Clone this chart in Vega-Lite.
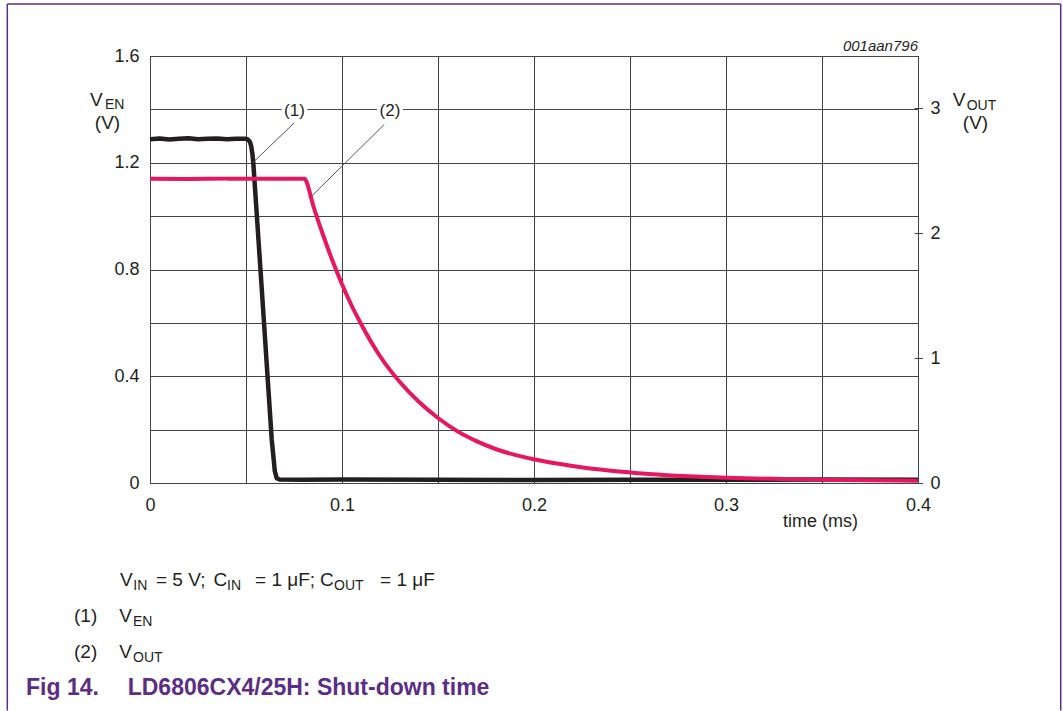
{
  "$schema": "https://vega.github.io/schema/vega-lite/v6.json",
  "width": 768,
  "height": 427,
  "autosize": {"type": "none"},
  "padding": {"left": 150, "top": 56, "right": 145, "bottom": 228},
  "background": "white",
  "config": {
    "view": {"stroke": "#231f20", "strokeWidth": 1},
    "font": "Liberation Sans",
    "axis": {"labelFont": "Liberation Sans", "labelColor": "#231f20", "title": null}
  },
  "datasets": {
    "ven": [
      {"t": 0, "v": 1.288}, {"t": 0.005, "v": 1.291}, {"t": 0.01, "v": 1.287}, {"t": 0.015, "v": 1.29},
      {"t": 0.02, "v": 1.292}, {"t": 0.025, "v": 1.288}, {"t": 0.03, "v": 1.29}, {"t": 0.035, "v": 1.291},
      {"t": 0.04, "v": 1.288}, {"t": 0.045, "v": 1.29}, {"t": 0.05, "v": 1.29}, {"t": 0.051, "v": 1.287},
      {"t": 0.052, "v": 1.279}, {"t": 0.0527, "v": 1.262}, {"t": 0.0533, "v": 1.235}, {"t": 0.0538, "v": 1.2},
      {"t": 0.058, "v": 0.75}, {"t": 0.0634, "v": 0.163}, {"t": 0.065, "v": 0.045}, {"t": 0.066, "v": 0.018},
      {"t": 0.0675, "v": 0.013}, {"t": 0.08, "v": 0.012}, {"t": 0.1, "v": 0.013}, {"t": 0.15, "v": 0.012},
      {"t": 0.2, "v": 0.011}, {"t": 0.25, "v": 0.012}, {"t": 0.3, "v": 0.012}, {"t": 0.35, "v": 0.013},
      {"t": 0.4, "v": 0.012}
    ],
    "vout": [
      {"t": 0, "v": 2.434}, {"t": 0.02, "v": 2.433}, {"t": 0.04, "v": 2.435}, {"t": 0.06, "v": 2.434},
      {"t": 0.0805, "v": 2.434}, {"t": 0.0812, "v": 2.42}, {"t": 0.085, "v": 2.22}, {"t": 0.09, "v": 1.99},
      {"t": 0.095, "v": 1.78}, {"t": 0.1, "v": 1.59}, {"t": 0.105, "v": 1.42}, {"t": 0.11, "v": 1.27},
      {"t": 0.12, "v": 1.01}, {"t": 0.13, "v": 0.81}, {"t": 0.14, "v": 0.65}, {"t": 0.15, "v": 0.52},
      {"t": 0.16, "v": 0.415}, {"t": 0.17, "v": 0.335}, {"t": 0.18, "v": 0.272}, {"t": 0.19, "v": 0.225},
      {"t": 0.2, "v": 0.19}, {"t": 0.22, "v": 0.136}, {"t": 0.24, "v": 0.098}, {"t": 0.26, "v": 0.072},
      {"t": 0.28, "v": 0.054}, {"t": 0.3, "v": 0.042}, {"t": 0.33, "v": 0.031}, {"t": 0.36, "v": 0.024},
      {"t": 0.4, "v": 0.018}
    ],
    "frameV": [
      {"t": -0.07432, "v": 1.7948, "v2": -0.8525},
      {"t": 0.47432, "v": 1.7948, "v2": -0.8525}
    ],
    "frameH": [
      {"t": -0.07432, "t2": 0.47432, "v": 1.7948}
    ],
    "leaders": [
      {"t": 0.07516, "v": 1.3497, "t2": 0.0538, "v2": 1.2021},
      {"t": 0.122, "v": 1.3433, "t2": 0.0833, "v2": 1.0687}
    ],
    "callouts": [
      {"t": 0.07526, "v": 1.3939, "label": "(1)"},
      {"t": 0.125, "v": 1.3939, "label": "(2)"}
    ],
    "txt": [
      {"t": -0.03125, "v": 1.4145, "label": "V"},
      {"t": 0.41807, "v": 1.4145, "label": "V"},
      {"t": -0.015625, "v": -0.3867, "label": "V"},
      {"t": 0.003125, "v": -0.3867, "label": "= 5 V;"},
      {"t": 0.033073, "v": -0.3867, "label": "C"},
      {"t": 0.054688, "v": -0.3867, "label": "= 1 μF;"},
      {"t": 0.088542, "v": -0.3867, "label": "C"},
      {"t": 0.119792, "v": -0.3867, "label": "= 1 μF"},
      {"t": -0.039583, "v": -0.5227, "label": "(1)"},
      {"t": -0.01599, "v": -0.5227, "label": "V"},
      {"t": -0.039583, "v": -0.655, "label": "(2)"},
      {"t": -0.01599, "v": -0.655, "label": "V"}
    ],
    "sub": [
      {"t": -0.02344, "v": 1.4014, "label": "EN"},
      {"t": 0.42536, "v": 1.3995, "label": "OUT"},
      {"t": -0.008698, "v": -0.4017, "label": "IN"},
      {"t": 0.040104, "v": -0.4017, "label": "IN"},
      {"t": 0.095833, "v": -0.4017, "label": "OUT"},
      {"t": -0.008854, "v": -0.5377, "label": "EN"},
      {"t": -0.008854, "v": -0.67, "label": "OUT"}
    ],
    "unit": [
      {"t": -0.02214, "v": 1.3283, "label": "(V)"},
      {"t": 0.42995, "v": 1.3283, "label": "(V)"}
    ],
    "xtitle": [
      {"t": 0.32969, "v": -0.1641, "label": "time (ms)"}
    ],
    "code": [
      {"t": 0.4, "v": 1.6187, "label": "001aan796"}
    ],
    "caption": [
      {"t": -0.064583, "v": -0.7951, "label": "Fig 14."},
      {"t": -0.011615, "v": -0.7951, "label": "LD6806CX4/25H: Shut-down time"}
    ]
  },
  "layer": [
    {
      "data": {"name": "ven"},
      "mark": {"type": "line", "color": "#231f20", "strokeWidth": 4.5, "strokeJoin": "round", "strokeCap": "butt"},
      "encoding": {
        "x": {"field": "t", "type": "quantitative", "scale": {"domain": [0, 0.4], "nice": false, "zero": false},
          "axis": {"orient": "bottom", "values": [0, 0.05, 0.1, 0.15, 0.2, 0.25, 0.3, 0.35, 0.4], "labelExpr": "round(datum.value*20)%2==0 ? format(datum.value,'~g') : ''", "grid": true, "gridColor": "#444444", "gridWidth": 1, "domain": false, "ticks": false, "labelPadding": 13, "labelFontSize": 18, "labelOverlap": false, "labelBound": false, "labelFlush": false}},
        "y": {
          "field": "v", "type": "quantitative",
          "scale": {"domain": [0, 1.6], "nice": false, "zero": false},
          "axis": {
            "orient": "left",
            "values": [0, 0.2, 0.4, 0.6, 0.8, 1.0, 1.2, 1.4, 1.6],
            "labelExpr": "round(datum.value*10)%4==0 ? format(datum.value,'~g') : ''",
            "grid": true, "gridColor": "#444444", "gridWidth": 1,
            "domain": false, "ticks": false,
            "labelPadding": 11, "labelFontSize": 18,
            "labelOverlap": false, "labelBound": false, "labelFlush": false
          }
        }
      }
    },
    {
      "data": {"name": "frameV"},
      "mark": {"type": "rule", "color": "#5c2d84", "strokeWidth": 1.5},
      "encoding": {
        "x": {"field": "t", "type": "quantitative", "scale": {"domain": [0, 0.4], "nice": false, "zero": false},
          "axis": {"orient": "bottom", "values": [0, 0.05, 0.1, 0.15, 0.2, 0.25, 0.3, 0.35, 0.4], "labelExpr": "round(datum.value*20)%2==0 ? format(datum.value,'~g') : ''", "grid": true, "gridColor": "#444444", "gridWidth": 1, "domain": false, "ticks": false, "labelPadding": 13, "labelFontSize": 18, "labelOverlap": false, "labelBound": false, "labelFlush": false}},
        "y": {"field": "v", "type": "quantitative", "scale": {"domain": [0, 1.6], "nice": false, "zero": false}, "axis": null},
        "y2": {"field": "v2"}
      }
    },
    {
      "data": {"name": "frameH"},
      "mark": {"type": "rule", "color": "#5c2d84", "strokeWidth": 1.5},
      "encoding": {
        "x": {"field": "t", "type": "quantitative", "scale": {"domain": [0, 0.4], "nice": false, "zero": false},
          "axis": {"orient": "bottom", "values": [0, 0.05, 0.1, 0.15, 0.2, 0.25, 0.3, 0.35, 0.4], "labelExpr": "round(datum.value*20)%2==0 ? format(datum.value,'~g') : ''", "grid": true, "gridColor": "#444444", "gridWidth": 1, "domain": false, "ticks": false, "labelPadding": 13, "labelFontSize": 18, "labelOverlap": false, "labelBound": false, "labelFlush": false}},
        "x2": {"field": "t2"},
        "y": {"field": "v", "type": "quantitative", "scale": {"domain": [0, 1.6], "nice": false, "zero": false}, "axis": null}
      }
    },
    {
      "data": {"name": "leaders"},
      "mark": {"type": "rule", "color": "#555555", "strokeWidth": 1},
      "encoding": {
        "x": {"field": "t", "type": "quantitative", "scale": {"domain": [0, 0.4], "nice": false, "zero": false},
          "axis": {"orient": "bottom", "values": [0, 0.05, 0.1, 0.15, 0.2, 0.25, 0.3, 0.35, 0.4], "labelExpr": "round(datum.value*20)%2==0 ? format(datum.value,'~g') : ''", "grid": true, "gridColor": "#444444", "gridWidth": 1, "domain": false, "ticks": false, "labelPadding": 13, "labelFontSize": 18, "labelOverlap": false, "labelBound": false, "labelFlush": false}},
        "x2": {"field": "t2"},
        "y": {"field": "v", "type": "quantitative", "scale": {"domain": [0, 1.6], "nice": false, "zero": false}, "axis": null},
        "y2": {"field": "v2"}
      }
    },
    {
      "data": {"name": "callouts"},
      "mark": {"type": "text", "font": "Liberation Sans", "fontSize": 17, "align": "center", "baseline": "middle", "stroke": "white", "strokeWidth": 7, "fill": "white"},
      "encoding": {
        "x": {"field": "t", "type": "quantitative", "scale": {"domain": [0, 0.4], "nice": false, "zero": false},
          "axis": {"orient": "bottom", "values": [0, 0.05, 0.1, 0.15, 0.2, 0.25, 0.3, 0.35, 0.4], "labelExpr": "round(datum.value*20)%2==0 ? format(datum.value,'~g') : ''", "grid": true, "gridColor": "#444444", "gridWidth": 1, "domain": false, "ticks": false, "labelPadding": 13, "labelFontSize": 18, "labelOverlap": false, "labelBound": false, "labelFlush": false}},
        "y": {"field": "v", "type": "quantitative", "scale": {"domain": [0, 1.6], "nice": false, "zero": false}, "axis": null},
        "text": {"field": "label"}
      }
    },
    {
      "data": {"name": "callouts"},
      "mark": {"type": "text", "font": "Liberation Sans", "fontSize": 17, "align": "center", "baseline": "middle", "fill": "#231f20"},
      "encoding": {
        "x": {"field": "t", "type": "quantitative", "scale": {"domain": [0, 0.4], "nice": false, "zero": false},
          "axis": {"orient": "bottom", "values": [0, 0.05, 0.1, 0.15, 0.2, 0.25, 0.3, 0.35, 0.4], "labelExpr": "round(datum.value*20)%2==0 ? format(datum.value,'~g') : ''", "grid": true, "gridColor": "#444444", "gridWidth": 1, "domain": false, "ticks": false, "labelPadding": 13, "labelFontSize": 18, "labelOverlap": false, "labelBound": false, "labelFlush": false}},
        "y": {"field": "v", "type": "quantitative", "scale": {"domain": [0, 1.6], "nice": false, "zero": false}, "axis": null},
        "text": {"field": "label"}
      }
    },
    {
      "data": {"name": "txt"},
      "mark": {"type": "text", "font": "Liberation Sans", "fontSize": 19, "align": "left", "baseline": "alphabetic", "fill": "#231f20"},
      "encoding": {
        "x": {"field": "t", "type": "quantitative", "scale": {"domain": [0, 0.4], "nice": false, "zero": false},
          "axis": {"orient": "bottom", "values": [0, 0.05, 0.1, 0.15, 0.2, 0.25, 0.3, 0.35, 0.4], "labelExpr": "round(datum.value*20)%2==0 ? format(datum.value,'~g') : ''", "grid": true, "gridColor": "#444444", "gridWidth": 1, "domain": false, "ticks": false, "labelPadding": 13, "labelFontSize": 18, "labelOverlap": false, "labelBound": false, "labelFlush": false}},
        "y": {"field": "v", "type": "quantitative", "scale": {"domain": [0, 1.6], "nice": false, "zero": false}, "axis": null},
        "text": {"field": "label"}
      }
    },
    {
      "data": {"name": "sub"},
      "mark": {"type": "text", "font": "Liberation Sans", "fontSize": 14, "align": "left", "baseline": "alphabetic", "fill": "#231f20"},
      "encoding": {
        "x": {"field": "t", "type": "quantitative", "scale": {"domain": [0, 0.4], "nice": false, "zero": false},
          "axis": {"orient": "bottom", "values": [0, 0.05, 0.1, 0.15, 0.2, 0.25, 0.3, 0.35, 0.4], "labelExpr": "round(datum.value*20)%2==0 ? format(datum.value,'~g') : ''", "grid": true, "gridColor": "#444444", "gridWidth": 1, "domain": false, "ticks": false, "labelPadding": 13, "labelFontSize": 18, "labelOverlap": false, "labelBound": false, "labelFlush": false}},
        "y": {"field": "v", "type": "quantitative", "scale": {"domain": [0, 1.6], "nice": false, "zero": false}, "axis": null},
        "text": {"field": "label"}
      }
    },
    {
      "data": {"name": "unit"},
      "mark": {"type": "text", "font": "Liberation Sans", "fontSize": 19, "align": "center", "baseline": "alphabetic", "fill": "#231f20"},
      "encoding": {
        "x": {"field": "t", "type": "quantitative", "scale": {"domain": [0, 0.4], "nice": false, "zero": false},
          "axis": {"orient": "bottom", "values": [0, 0.05, 0.1, 0.15, 0.2, 0.25, 0.3, 0.35, 0.4], "labelExpr": "round(datum.value*20)%2==0 ? format(datum.value,'~g') : ''", "grid": true, "gridColor": "#444444", "gridWidth": 1, "domain": false, "ticks": false, "labelPadding": 13, "labelFontSize": 18, "labelOverlap": false, "labelBound": false, "labelFlush": false}},
        "y": {"field": "v", "type": "quantitative", "scale": {"domain": [0, 1.6], "nice": false, "zero": false}, "axis": null},
        "text": {"field": "label"}
      }
    },
    {
      "data": {"name": "xtitle"},
      "mark": {"type": "text", "font": "Liberation Sans", "fontSize": 18, "align": "left", "baseline": "alphabetic", "fill": "#231f20"},
      "encoding": {
        "x": {"field": "t", "type": "quantitative", "scale": {"domain": [0, 0.4], "nice": false, "zero": false},
          "axis": {"orient": "bottom", "values": [0, 0.05, 0.1, 0.15, 0.2, 0.25, 0.3, 0.35, 0.4], "labelExpr": "round(datum.value*20)%2==0 ? format(datum.value,'~g') : ''", "grid": true, "gridColor": "#444444", "gridWidth": 1, "domain": false, "ticks": false, "labelPadding": 13, "labelFontSize": 18, "labelOverlap": false, "labelBound": false, "labelFlush": false}},
        "y": {"field": "v", "type": "quantitative", "scale": {"domain": [0, 1.6], "nice": false, "zero": false}, "axis": null},
        "text": {"field": "label"}
      }
    },
    {
      "data": {"name": "code"},
      "mark": {"type": "text", "font": "Liberation Sans", "fontSize": 15, "fontStyle": "italic", "align": "right", "baseline": "alphabetic", "fill": "#231f20"},
      "encoding": {
        "x": {"field": "t", "type": "quantitative", "scale": {"domain": [0, 0.4], "nice": false, "zero": false},
          "axis": {"orient": "bottom", "values": [0, 0.05, 0.1, 0.15, 0.2, 0.25, 0.3, 0.35, 0.4], "labelExpr": "round(datum.value*20)%2==0 ? format(datum.value,'~g') : ''", "grid": true, "gridColor": "#444444", "gridWidth": 1, "domain": false, "ticks": false, "labelPadding": 13, "labelFontSize": 18, "labelOverlap": false, "labelBound": false, "labelFlush": false}},
        "y": {"field": "v", "type": "quantitative", "scale": {"domain": [0, 1.6], "nice": false, "zero": false}, "axis": null},
        "text": {"field": "label"}
      }
    },
    {
      "data": {"name": "caption"},
      "mark": {"type": "text", "font": "Liberation Sans", "fontSize": 23, "fontWeight": "bold", "align": "left", "baseline": "alphabetic", "fill": "#5c2d84"},
      "encoding": {
        "x": {"field": "t", "type": "quantitative", "scale": {"domain": [0, 0.4], "nice": false, "zero": false},
          "axis": {"orient": "bottom", "values": [0, 0.05, 0.1, 0.15, 0.2, 0.25, 0.3, 0.35, 0.4], "labelExpr": "round(datum.value*20)%2==0 ? format(datum.value,'~g') : ''", "grid": true, "gridColor": "#444444", "gridWidth": 1, "domain": false, "ticks": false, "labelPadding": 13, "labelFontSize": 18, "labelOverlap": false, "labelBound": false, "labelFlush": false}},
        "y": {"field": "v", "type": "quantitative", "scale": {"domain": [0, 1.6], "nice": false, "zero": false}, "axis": null},
        "text": {"field": "label"}
      }
    },
    {
      "data": {"name": "vout"},
      "mark": {"type": "line", "color": "#e8175d", "strokeWidth": 4, "strokeJoin": "round", "interpolate": "monotone"},
      "encoding": {
        "x": {"field": "t", "type": "quantitative", "scale": {"domain": [0, 0.4], "nice": false, "zero": false},
          "axis": {"orient": "bottom", "values": [0, 0.05, 0.1, 0.15, 0.2, 0.25, 0.3, 0.35, 0.4], "labelExpr": "round(datum.value*20)%2==0 ? format(datum.value,'~g') : ''", "grid": true, "gridColor": "#444444", "gridWidth": 1, "domain": false, "ticks": false, "labelPadding": 13, "labelFontSize": 18, "labelOverlap": false, "labelBound": false, "labelFlush": false}},
        "y": {
          "field": "v", "type": "quantitative",
          "scale": {"domain": [0, 3.416], "nice": false, "zero": false},
          "axis": {
            "orient": "right",
            "values": [0, 1, 2, 3],
            "grid": false, "domain": false,
            "offset": -4, "tickSize": 8.5, "tickColor": "#444444", "tickWidth": 1,
            "labelPadding": 7.5, "labelFontSize": 18,
            "labelOverlap": false, "labelBound": false, "labelFlush": false
          }
        }
      }
    }
  ],
  "resolve": {"scale": {"y": "independent"}, "axis": {"y": "independent"}}
}
